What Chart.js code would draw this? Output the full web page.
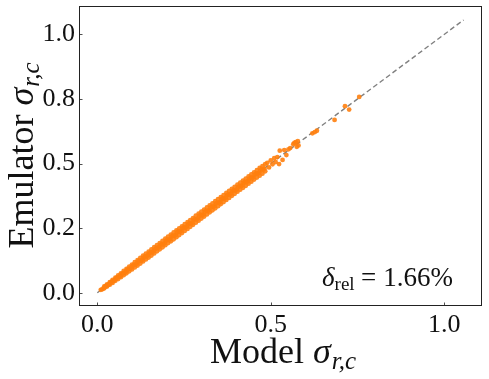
<!DOCTYPE html>
<html>
<head>
<meta charset="utf-8">
<script src="https://cdn.jsdelivr.net/npm/chart.js@4/dist/chart.umd.min.js"></script>
<style>
  html, body { margin: 0; padding: 0; background: #fff; }
  #wrap { width: 489px; height: 379px; }
</style>
</head>
<body>
<div id="wrap"><canvas id="myChart" width="489" height="379"></canvas></div>
<script>
// model value (x) and emulator value (y)
const modelSigma = [
  // centre of the band
  0.010, 0.018, 0.026, 0.034, 0.042, 0.050, 0.058, 0.066, 0.074, 0.082,
  0.090, 0.098, 0.106, 0.114, 0.122, 0.130, 0.138, 0.146, 0.154, 0.162,
  0.170, 0.178, 0.186, 0.194, 0.202, 0.210, 0.218, 0.226, 0.234, 0.242,
  0.250, 0.258, 0.266, 0.274, 0.282, 0.290, 0.298, 0.306, 0.314, 0.322,
  0.330, 0.338, 0.346, 0.354, 0.362, 0.370, 0.378, 0.386, 0.394, 0.402,
  0.410, 0.418, 0.426, 0.434, 0.442, 0.450, 0.458, 0.466, 0.474, 0.482,
  0.014, 0.022, 0.030, 0.038, 0.046, 0.054, 0.062, 0.070, 0.078, 0.086,
  0.094, 0.102, 0.110, 0.118, 0.126, 0.134, 0.142, 0.150, 0.158, 0.166,
  0.174, 0.182, 0.190, 0.198, 0.206, 0.214, 0.222, 0.230, 0.238, 0.246,
  0.254, 0.262, 0.270, 0.278, 0.286, 0.294, 0.302, 0.310, 0.318, 0.326,
  0.334, 0.342, 0.350, 0.358, 0.366, 0.374, 0.382, 0.390, 0.398, 0.406,
  0.414, 0.422, 0.430, 0.438, 0.446, 0.454, 0.462, 0.470, 0.478,
  // upper edge of the band
  0.020, 0.036, 0.052, 0.068, 0.084, 0.100, 0.116, 0.132, 0.148, 0.164,
  0.180, 0.196, 0.212, 0.228, 0.244, 0.260, 0.276, 0.292, 0.308, 0.324,
  0.340, 0.356, 0.372, 0.388, 0.404, 0.420, 0.436, 0.452, 0.468, 0.484,
  0.028, 0.044, 0.060, 0.076, 0.092, 0.108, 0.124, 0.140, 0.156, 0.172,
  0.188, 0.204, 0.220, 0.236, 0.252, 0.268, 0.284, 0.300, 0.316, 0.332,
  0.348, 0.364, 0.380, 0.396, 0.412, 0.428, 0.444, 0.460, 0.476,
  // lower edge of the band
  0.028, 0.044, 0.060, 0.076, 0.092, 0.108, 0.124, 0.140, 0.156, 0.172,
  0.188, 0.204, 0.220, 0.236, 0.252, 0.268, 0.284, 0.300, 0.316, 0.332,
  0.348, 0.364, 0.380, 0.396, 0.412, 0.428, 0.444, 0.460, 0.476,
  0.020, 0.036, 0.052, 0.068, 0.084, 0.100, 0.116, 0.132, 0.148, 0.164,
  0.180, 0.196, 0.212, 0.228, 0.244, 0.260, 0.276, 0.292, 0.308, 0.324,
  0.340, 0.356, 0.372, 0.388, 0.404, 0.420, 0.436, 0.452, 0.468, 0.484,
  // sparse tail
  0.490, 0.495, 0.500, 0.505, 0.510, 0.514, 0.519, 0.524, 0.526, 0.534,
  0.539, 0.545, 0.551, 0.556, 0.565, 0.568, 0.572, 0.575, 0.578, 0.580,
  0.620, 0.627, 0.633, 0.684, 0.714, 0.726, 0.755
];
const emulatorSigma = [
  0.011, 0.017, 0.027, 0.033, 0.043, 0.049, 0.059, 0.065, 0.075, 0.081,
  0.092, 0.097, 0.108, 0.113, 0.124, 0.128, 0.140, 0.145, 0.156, 0.160,
  0.172, 0.177, 0.188, 0.192, 0.205, 0.208, 0.221, 0.224, 0.237, 0.240,
  0.253, 0.256, 0.269, 0.271, 0.285, 0.288, 0.301, 0.303, 0.317, 0.320,
  0.333, 0.336, 0.349, 0.352, 0.365, 0.368, 0.381, 0.384, 0.397, 0.400,
  0.413, 0.416, 0.429, 0.432, 0.445, 0.448, 0.462, 0.464, 0.478, 0.480,
  0.013, 0.023, 0.029, 0.039, 0.045, 0.055, 0.061, 0.071, 0.077, 0.088,
  0.093, 0.104, 0.109, 0.120, 0.124, 0.136, 0.141, 0.152, 0.156, 0.168,
  0.173, 0.184, 0.188, 0.201, 0.204, 0.217, 0.220, 0.233, 0.236, 0.249,
  0.252, 0.265, 0.267, 0.281, 0.284, 0.297, 0.299, 0.313, 0.316, 0.329,
  0.332, 0.345, 0.348, 0.361, 0.364, 0.377, 0.380, 0.393, 0.396, 0.409,
  0.412, 0.425, 0.428, 0.441, 0.444, 0.457, 0.461, 0.473, 0.476,
  0.024, 0.041, 0.058, 0.075, 0.092, 0.109, 0.126, 0.143, 0.159, 0.176,
  0.192, 0.209, 0.225, 0.241, 0.257, 0.273, 0.289, 0.306, 0.322, 0.338,
  0.354, 0.370, 0.386, 0.402, 0.418, 0.434, 0.450, 0.466, 0.483, 0.498,
  0.032, 0.050, 0.067, 0.084, 0.101, 0.118, 0.135, 0.151, 0.168, 0.184,
  0.201, 0.217, 0.233, 0.249, 0.265, 0.281, 0.298, 0.314, 0.330, 0.346,
  0.362, 0.378, 0.394, 0.410, 0.426, 0.442, 0.458, 0.474, 0.490,
  0.024, 0.038, 0.053, 0.068, 0.083, 0.098, 0.113, 0.129, 0.144, 0.160,
  0.176, 0.192, 0.207, 0.223, 0.239, 0.255, 0.271, 0.287, 0.303, 0.319,
  0.335, 0.351, 0.367, 0.383, 0.399, 0.414, 0.430, 0.446, 0.461,
  0.017, 0.031, 0.046, 0.060, 0.075, 0.090, 0.105, 0.121, 0.136, 0.152,
  0.168, 0.184, 0.199, 0.215, 0.231, 0.247, 0.263, 0.279, 0.295, 0.311,
  0.327, 0.343, 0.359, 0.375, 0.391, 0.406, 0.422, 0.438, 0.453, 0.470,
  0.503, 0.485, 0.512, 0.497, 0.521, 0.506, 0.525, 0.498, 0.550, 0.514,
  0.552, 0.533, 0.555, 0.560, 0.575, 0.580, 0.583, 0.565, 0.587, 0.570,
  0.617, 0.622, 0.627, 0.669, 0.722, 0.709, 0.758
];

// y = x reference line
const diagX = [0, 1.056];

const xTickValues = [0, 0.5, 1.0];
const xTickLabels = ["0.0", "0.5", "1.0"];
const yTickValues = [0, 0.25, 0.5, 0.75, 1.0];
const yTickLabels = ["0.0", "0.2", "0.5", "0.8", "1.0"];

const SERIF = "'Liberation Serif', 'DejaVu Serif', serif";

const scatterPoints = modelSigma.map(function (v, i) {
  return { x: v, y: emulatorSigma[i] };
});
const diagPoints = diagX.map(function (v) {
  return { x: v, y: v };
});

// frame, inward ticks, axis titles and the annotation
const decorPlugin = {
  id: "decor",
  afterDraw: function (chart) {
    const ctx = chart.ctx;
    const a = chart.chartArea;
    const xs = chart.scales.x, ys = chart.scales.y;

    ctx.save();
    ctx.strokeStyle = "#222";
    ctx.lineWidth = 1;
    ctx.strokeRect(Math.round(a.left) + 0.5, Math.round(a.top) + 0.5,
      Math.round(a.right - a.left) - 1, Math.round(a.bottom - a.top) - 1);

    ctx.lineWidth = 0.8;
    ctx.beginPath();
    xTickValues.forEach(function (v) {
      const px = Math.round(xs.getPixelForValue(v)) + 0.5;
      ctx.moveTo(px, a.bottom);
      ctx.lineTo(px, a.bottom - 3.5);
    });
    yTickValues.forEach(function (v) {
      const py = Math.round(ys.getPixelForValue(v)) + 0.5;
      ctx.moveTo(a.left, py);
      ctx.lineTo(a.left + 3.5, py);
    });
    ctx.stroke();

    ctx.fillStyle = "#111";
    ctx.textBaseline = "alphabetic";
    ctx.textAlign = "left";

    function drawLabel(word, cx, baseline) {
      const big = "36px " + SERIF, bigIt = "italic 36px " + SERIF, sub = "italic 25px " + SERIF;
      ctx.font = big; const w1 = ctx.measureText(word).width;
      ctx.font = bigIt; const w2 = ctx.measureText("\u03c3").width;
      ctx.font = sub; const w3 = ctx.measureText("r,c").width;
      let x = cx - (w1 + w2 + w3) / 2;
      ctx.font = big; ctx.fillText(word, x, baseline); x += w1;
      ctx.font = bigIt; ctx.fillText("\u03c3", x, baseline); x += w2 + 1;
      ctx.font = sub; ctx.fillText("r,c", x, baseline + 6);
    }

    // x title
    drawLabel("Model ", (a.left + a.right) / 2 + 2, 363);

    // y title
    ctx.save();
    ctx.translate(33, (a.top + a.bottom) / 2);
    ctx.rotate(-Math.PI / 2);
    drawLabel("Emulator ", 0, 0);
    ctx.restore();

    // annotation: delta_rel = 1.66%
    const base = 286;
    ctx.font = "italic 27px " + SERIF;
    ctx.fillText("\u03b4", 322, base);
    const dw = ctx.measureText("\u03b4").width;
    ctx.font = "19px " + SERIF;
    ctx.fillText("rel", 322 + dw, base + 4);
    ctx.font = "27px " + SERIF;
    ctx.fillText("=", 361, base);
    ctx.textAlign = "right";
    ctx.fillText("1.66%", 453, base);

    ctx.restore();
  }
};

const tickFont = { family: SERIF, size: 26 };

const config = {
  type: "scatter",
  data: {
    datasets: [
      {
        label: "samples",
        data: scatterPoints,
        pointRadius: 2.4,
        pointBackgroundColor: "rgba(255, 127, 14, 0.9)",
        pointBorderWidth: 0
      },
      {
        label: "y = x",
        data: diagPoints,
        showLine: true,
        borderColor: "#808080",
        borderWidth: 1.4,
        borderDash: [5, 3],
        pointRadius: 0
      }
    ]
  },
  options: {
    responsive: false,
    animation: false,
    layout: { padding: { top: 6, right: 7, left: 0, bottom: 0 } },
    plugins: {
      legend: { display: false },
      tooltip: { enabled: false }
    },
    scales: {
      x: {
        type: "linear",
        min: -0.0528,
        max: 1.109,
        grid: { display: false, drawTicks: false },
        border: { display: false },
        afterBuildTicks: function (scale) {
          scale.ticks = xTickValues.map(function (v) { return { value: v }; });
        },
        afterFit: function (scale) {
          scale.height = 73;
          scale.paddingLeft = 0;
          scale.paddingRight = 0;
        },
        ticks: {
          font: tickFont,
          color: "#111",
          padding: 4,
          maxRotation: 0,
          callback: function (value) {
            const i = xTickValues.indexOf(value);
            return i >= 0 ? xTickLabels[i] : "";
          }
        }
      },
      y: {
        type: "linear",
        min: -0.0515,
        max: 1.110,
        grid: { display: false, drawTicks: false },
        border: { display: false },
        afterBuildTicks: function (scale) {
          scale.ticks = yTickValues.map(function (v) { return { value: v }; });
        },
        afterFit: function (scale) {
          scale.width = 79;
          scale.paddingTop = 0;
          scale.paddingBottom = 0;
        },
        ticks: {
          font: tickFont,
          color: "#111",
          padding: 4,
          callback: function (value) {
            const i = yTickValues.indexOf(value);
            return i >= 0 ? yTickLabels[i] : "";
          }
        }
      }
    }
  },
  plugins: [decorPlugin]
};

const myChart = new Chart(document.getElementById("myChart"), config);
</script>
</body>
</html>
